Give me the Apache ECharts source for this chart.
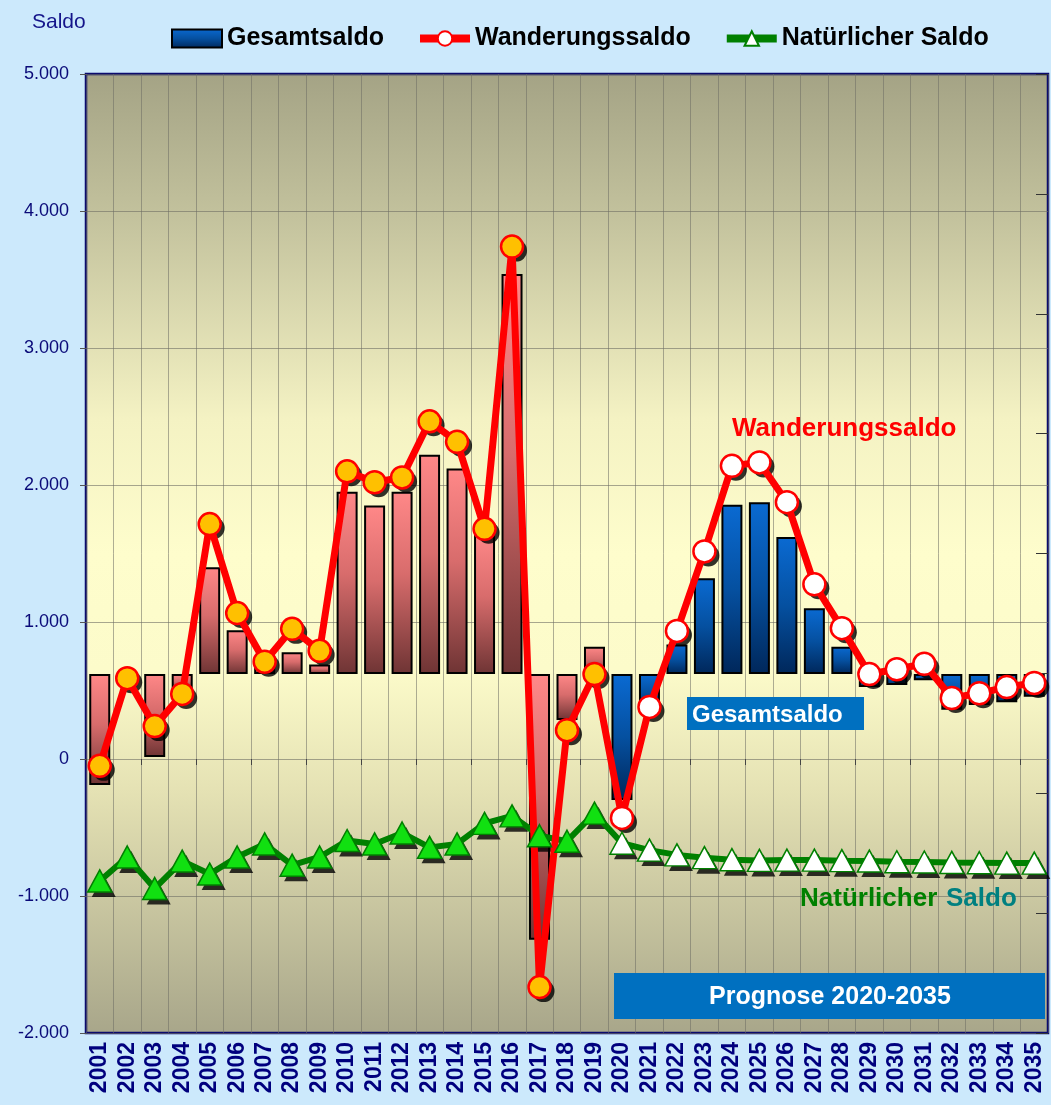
<!DOCTYPE html>
<html>
<head>
<meta charset="utf-8">
<script src="https://cdn.jsdelivr.net/npm/echarts@6.0.0/dist/echarts.min.js"></script>
<style>
    html, body { margin: 0; padding: 0; background: #cce9fc; }
    #saldo { width: 1051px; height: 1105px; }
</style>
</head>
<body>
<div id="saldo"></div>
<script>
// Jahre
var jahre = ['2001', '2002', '2003', '2004', '2005', '2006', '2007', '2008', '2009', '2010',
    '2011', '2012', '2013', '2014', '2015', '2016', '2017', '2018', '2019', '2020',
    '2021', '2022', '2023', '2024', '2025', '2026', '2027', '2028', '2029', '2030',
    '2031', '2032', '2033', '2034', '2035'];

// Gesamtsaldo (Balken, gezeichnet ab Basislinie)
var gesamtsaldo = [-190, 570, 15, 500, 1400, 940, 700, 780, 690, 1950,
    1850, 1950, 2220, 2120, 1650, 3540, -1320, 285, 820, -300,
    350, 835, 1320, 1855, 1875, 1620, 1100, 820, 525, 540,
    575, 360, 395, 415, 455];

// Wanderungssaldo
var wanderungssaldo = [-50, 590, 240, 475, 1715, 1065, 710, 950, 790, 2100,
    2020, 2055, 2465, 2315, 1680, 3740, -1665, 210, 620, -430,
    380, 935, 1515, 2140, 2165, 1875, 1275, 955, 620, 655,
    695, 445, 480, 525, 555];

// Natürlicher Saldo
var natuerlicherSaldo = [-890, -715, -945, -745, -840, -715, -620, -775, -715, -595,
    -620, -540, -645, -620, -470, -415, -560, -600, -395, -615,
    -665, -700, -720, -735, -740, -738, -738, -742, -745, -750,
    -752, -755, -757, -760, -760];

// Basislinie der Balken und erstes Prognosejahr
var balkenBasis = 620;
var prognoseAb = '2020';

// Achsenbeschriftung
var yTicks = [-2000, -1000, 0, 1000, 2000, 3000, 4000, 5000];


function deFormat(v) {
    var s = Math.abs(v).toString().replace(/\B(?=(\d{3})+(?!\d))/g, '.');
    return (v < 0 ? '-' : '') + s;
}

var prognoseIndex = jahre.indexOf(prognoseAb);
var schrift = 'Liberation Sans, Arial, sans-serif';

var rotVerlauf = new echarts.graphic.LinearGradient(0, 0, 0, 1, [
    {offset: 0, color: '#ff8888'},
    {offset: 0.45, color: '#d86c6c'},
    {offset: 1, color: '#6e3434'}
]);
var blauVerlauf = new echarts.graphic.LinearGradient(0, 0, 0, 1, [
    {offset: 0, color: '#0a6ad2'},
    {offset: 0.5, color: '#0550a0'},
    {offset: 1, color: '#00275a'}
]);

// Balken: unsichtbarer Sockel + sichtbarer Teil (stackStrategy all)
var sockelDaten = gesamtsaldo.map(function (v) {
    return Math.min(v, balkenBasis);
});
var balkenDaten = gesamtsaldo.map(function (v, i) {
    return {
        value: Math.abs(v - balkenBasis),
        itemStyle: {color: i < prognoseIndex ? rotVerlauf : blauVerlauf}
    };
});

var wanderungDaten = wanderungssaldo.map(function (v, i) {
    return {
        value: v,
        itemStyle: {color: i < prognoseIndex ? '#ffc000' : '#ffffff'}
    };
});

var natuerlichDaten = natuerlicherSaldo.map(function (v, i) {
    return {
        value: v,
        itemStyle: {color: i < prognoseIndex ? '#11e011' : '#ffffff'}
    };
});

// Schatten der Marker als versetzte schwarze Symbole
function schattenSerie(daten, symbol, groesse, versatz) {
    return {
        type: 'scatter',
        silent: true,
        symbol: symbol,
        symbolSize: groesse,
        symbolOffset: versatz,
        itemStyle: {color: '#000'},
        data: daten
    };
}

var saldoChart = echarts.init(document.getElementById('saldo'));

var saldoOption = {
    animation: false,
    backgroundColor: '#cce9fc',
    textStyle: {fontFamily: schrift},
    title: {
        text: 'Saldo',
        left: 27,
        top: 7,
        textStyle: {fontSize: 21, fontWeight: 'normal', color: '#14148a'}
    },
    legend: {
        left: 166,
        top: 21,
        itemWidth: 50,
        itemHeight: 18,
        itemGap: 32,
        textStyle: {fontSize: 25, fontWeight: 'bold', color: '#000'},
        data: [
            {
                name: 'Gesamtsaldo',
                icon: 'rect',
                itemStyle: {color: blauVerlauf, borderColor: '#000', borderWidth: 2}
            },
            {
                name: 'Wanderungssaldo',
                itemStyle: {color: '#fff', borderWidth: 2},
                lineStyle: {width: 8}
            },
            {
                name: 'Natürlicher Saldo',
                itemStyle: {color: '#fff', borderWidth: 2},
                lineStyle: {width: 8}
            }
        ]
    },
    grid: {
        left: 86,
        right: 3,
        top: 74,
        bottom: 72,
        show: true,
        borderColor: '#0b0b6e',
        borderWidth: 2.5,
        backgroundColor: new echarts.graphic.LinearGradient(0, 0, 0, 1, [
            {offset: 0, color: '#a4a385'},
            {offset: 0.15, color: '#c3c29d'},
            {offset: 0.36, color: '#f4f2c3'},
            {offset: 0.5, color: '#fefdcc'},
            {offset: 0.62, color: '#fcfbca'},
            {offset: 0.75, color: '#e4e1b3'},
            {offset: 1, color: '#a8a68a'}
        ])
    },
    xAxis: [
        {
            type: 'category',
            data: jahre,
            position: 'bottom',
            axisLine: {show: false, onZero: false},
            axisTick: {show: false},
            axisLabel: {
                interval: 0,
                rotate: 90,
                margin: 9,
                fontSize: 23,
                fontWeight: 'bold',
                color: '#00007e'
            },
            splitLine: {show: true, lineStyle: {color: 'rgba(110,110,100,0.55)', width: 1}}
        },
        {
            // Teilstriche auf der Nulllinie
            type: 'category',
            data: jahre,
            position: 'bottom',
            axisLine: {show: false, onZero: true, onZeroAxisIndex: 0},
            axisTick: {show: true, length: 6, lineStyle: {color: '#444'}},
            axisLabel: {show: false},
            splitLine: {show: false}
        }
    ],
    yAxis: [
        {
            type: 'value',
            min: yTicks[0],
            max: yTicks[yTicks.length - 1],
            interval: 1000,
            axisLine: {show: false},
            axisTick: {show: true, length: 6, lineStyle: {color: '#555'}},
            axisLabel: {
                margin: 17,
                fontSize: 18,
                color: '#0a0a78',
                formatter: deFormat
            },
            splitLine: {show: true, lineStyle: {color: 'rgba(110,110,100,0.6)', width: 1}}
        },
        {
            // rechte Achse nur mit Teilstrichen
            type: 'value',
            position: 'right',
            min: 0,
            max: 8,
            interval: 1,
            axisLine: {show: false},
            axisTick: {show: true, inside: true, length: 12, lineStyle: {color: '#333'}},
            axisLabel: {show: false},
            splitLine: {show: false}
        }
    ],
    series: [
        {
            name: 'Sockel',
            type: 'bar',
            stack: 'gesamt',
            stackStrategy: 'all',
            barWidth: 21,
            silent: true,
            itemStyle: {color: 'rgba(0,0,0,0)', borderWidth: 0},
            data: sockelDaten
        },
        {
            name: 'Gesamtsaldo',
            type: 'bar',
            stack: 'gesamt',
            stackStrategy: 'all',
            barWidth: 21,
            itemStyle: {color: blauVerlauf, borderColor: '#000', borderWidth: 2},
            data: balkenDaten
        },
        schattenSerie(natuerlicherSaldo, 'triangle', [24, 22], [4, 5]),
        {
            name: 'Natürlicher Saldo',
            type: 'line',
            symbol: 'triangle',
            symbolSize: [24, 22],
            lineStyle: {color: '#008000', width: 6},
            itemStyle: {
                color: '#11e011',
                borderColor: '#008000',
                borderWidth: 1.5
            },
            data: natuerlichDaten
        },
        schattenSerie(wanderungssaldo, 'circle', 22, [4, 4]),
        {
            name: 'Wanderungssaldo',
            type: 'line',
            symbol: 'circle',
            symbolSize: 22,
            lineStyle: {color: '#ff0000', width: 7},
            itemStyle: {
                color: '#ffc000',
                borderColor: '#ff0000',
                borderWidth: 2.5
            },
            data: wanderungDaten
        }
    ],
    graphic: [
        {
            type: 'text',
            z: 100,
            style: {
                x: 732, y: 429,
                text: 'Wanderungssaldo',
                font: 'bold 26px ' + schrift,
                fill: '#ff0000',
                verticalAlign: 'middle'
            }
        },
        {
            type: 'rect',
            z: 100,
            shape: {x: 687, y: 697, width: 177, height: 33},
            style: {fill: '#0070c0'}
        },
        {
            type: 'text',
            z: 101,
            style: {
                x: 692, y: 715,
                text: 'Gesamtsaldo',
                font: 'bold 24px ' + schrift,
                fill: '#ffffff',
                verticalAlign: 'middle'
            }
        },
        {
            type: 'text',
            z: 100,
            style: {
                x: 800, y: 899,
                text: 'Natürlicher',
                font: 'bold 26px ' + schrift,
                fill: '#008000',
                verticalAlign: 'middle'
            }
        },
        {
            type: 'text',
            z: 100,
            style: {
                x: 946, y: 899,
                text: 'Saldo',
                font: 'bold 26px ' + schrift,
                fill: '#008080',
                verticalAlign: 'middle'
            }
        },
        {
            type: 'rect',
            z: 100,
            shape: {x: 614, y: 973, width: 431, height: 46},
            style: {fill: '#0070c0'}
        },
        {
            type: 'text',
            z: 101,
            style: {
                x: 830, y: 997,
                text: 'Prognose 2020-2035',
                font: 'bold 25px ' + schrift,
                fill: '#ffffff',
                align: 'center',
                verticalAlign: 'middle'
            }
        }
    ]
};

saldoChart.setOption(saldoOption);
</script>
</body>
</html>
